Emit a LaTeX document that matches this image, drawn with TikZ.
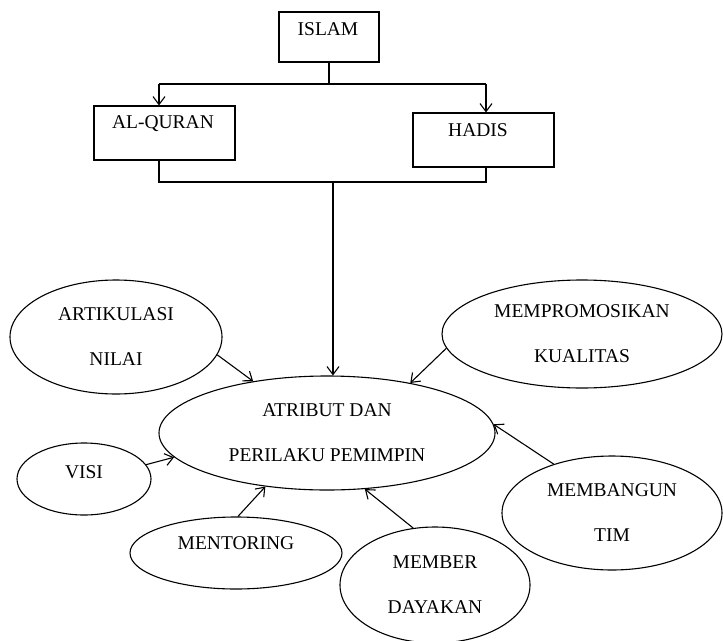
\documentclass[tikz,border=0pt]{standalone}
\usepackage{fontspec}
\setmainfont{Liberation Serif}
\usetikzlibrary{shapes.geometric,arrows.meta,calc}
\begin{document}
\begin{tikzpicture}[x=1pt,y=-1pt,
  line width=1.1pt,
  box/.style={draw,rectangle,inner sep=0pt},
  oval/.style={draw,ellipse,inner sep=0pt,align=center,font=\fontsize{19.5}{45}\selectfont},
  lbl/.style={inner sep=0pt,text height=13pt,text depth=0pt,font=\fontsize{19.5}{23}\selectfont},
  arr/.style={-{Straight Barb[length=8pt,width=12pt]}}]
\useasboundingbox (0,0) rectangle (723,640);
% boxes
\node[box,minimum width=100pt,minimum height=50pt] (islam) at (329,37) {};
\node[lbl] (islamT) at (328,29) {ISLAM};
\node[box,minimum width=141pt,minimum height=54pt] (quran) at (164.5,133) {};
\node[lbl] (quranT) at (163,121.5) {AL-QURAN};
\node[box,minimum width=141pt,minimum height=54pt] (hadis) at (483.5,140) {};
\node[lbl] (hadisT) at (478,130) {HADIS};
\coordinate (j1) at (329,84);
\coordinate (qa) at (159,84);
\coordinate (ha) at (486,84);
\coordinate (j2) at (333,182);
% ellipses
\node[oval,minimum width=336pt,minimum height=114pt] (cen) at (327,433) {ATRIBUT DAN\\PERILAKU PEMIMPIN};
\node[oval,minimum width=212pt,minimum height=114pt] (art) at (116,337) {ARTIKULASI\\NILAI};
\node[oval,minimum width=280pt,minimum height=108pt] (mem) at (582,334) {MEMPROMOSIKAN\\KUALITAS};
\node[oval,minimum width=134pt,minimum height=72pt] (visi) at (84,479) {};
\node[lbl] (visiT) at (84,472) {VISI};
\node[oval,minimum width=212pt,minimum height=72pt] (ment) at (236,553) {};
\node[lbl] (mentT) at (236,543) {MENTORING};
\node[oval,minimum width=190pt,minimum height=116pt] (memb) at (435,585) {MEMBER\\DAYAKAN};
\node[oval,minimum width=220pt,minimum height=114pt] (bang) at (612,513) {MEMBANGUN\\TIM};
% tree connectors
\draw (islam.south) -- (j1);
\draw (qa) -- (ha);
\draw[arr] (qa) -- (qa |- quran.north);
\draw[arr] (ha) -- (ha |- hadis.north);
\draw (qa |- quran.south) -- (qa |- j2) -- (ha |- j2) -- (ha |- hadis.south);
\draw[arr] (j2) -- (j2 |- cen.north);
% arrows into centre
\draw[arr] (art.-10) -- (cen.145);
\draw[arr] (mem.-174.5) -- (cen.31);
\draw[arr] (visi.13) -- (cen.-171);
\draw[arr] (ment.87) -- (cen.-139);
\draw[arr] (memb.111) -- (cen.-56);
\draw[arr] (bang.140) -- (cen.3.4);
\end{tikzpicture}
\end{document}
